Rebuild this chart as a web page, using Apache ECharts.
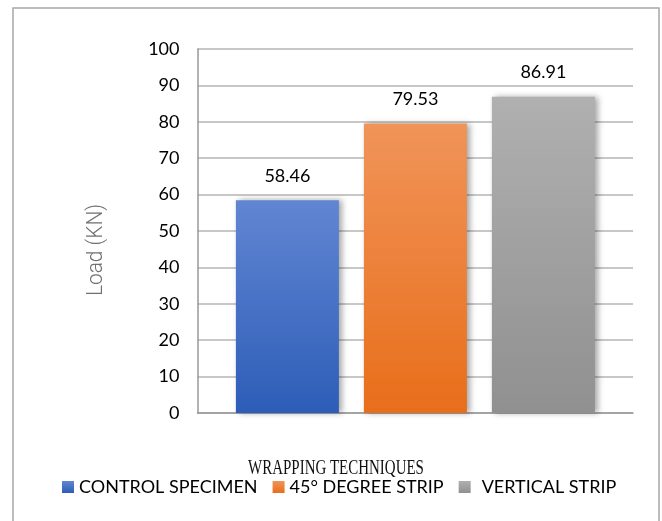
<!DOCTYPE html>
<html>
<head>
<meta charset="utf-8">
<script src="https://cdn.jsdelivr.net/npm/echarts@6/dist/echarts.min.js"></script>
<style>
  html, body { margin: 0; padding: 0; background: #ffffff; }
  #chart { width: 662px; height: 521px; }
</style>
</head>
<body>
<div id="chart"></div>
<script>
// Ultimate load per wrapping technique
const categories = ['CONTROL SPECIMEN', '45° DEGREE STRIP', 'VERTICAL STRIP'];
const loads = [58.46, 79.53, 86.91];
const yTicks = { min: 0, max: 100, interval: 10 };

// vertical gradients for each bar (top colour, bottom colour)
const barColors = [
  ['#6186d2', '#2d5db8'],
  ['#f09459', '#e86e1a'],
  ['#b0b0b0', '#909090']
];

const chart = echarts.init(document.getElementById('chart'), null, { renderer: 'canvas' });

const gradient = (c) => new echarts.graphic.LinearGradient(0, 0, 0, 1, [
  { offset: 0, color: c[0] },
  { offset: 1, color: c[1] }
]);

const textFont = 'Lato';

// one series per technique, stacked so each sits in its own slot
const series = categories.map((name, i) => ({
  name: name,
  type: 'bar',
  xAxisIndex: 1,
  yAxisIndex: 1,
  stack: 'all',
  barWidth: 103,
  data: categories.map((_, j) => (j === i ? loads[i] : null)),
  itemStyle: {
    color: gradient(barColors[i]),
    shadowColor: 'rgba(0,0,0,0.35)',
    shadowBlur: 6,
    shadowOffsetX: 3,
    shadowOffsetY: 0
  },
  label: {
    show: true,
    position: 'top',
    distance: 15,
    fontFamily: textFont,
    fontSize: 18,
    color: '#000',
    formatter: (p) => p.value.toFixed(2)
  },
  legendHoverLink: false,
  emphasis: { disabled: true }
}));

chart.setOption({
  animation: false,
  backgroundColor: '#ffffff',
  legend: {
    data: categories.map((name, i) => ({
      name: name,
      itemStyle: { color: gradient(barColors[i]) },
      textStyle: i === 2 ? { padding: [0, 0, 0, 6] } : {}
    })),
    left: 62,
    top: 478,
    padding: 0,
    itemWidth: 12,
    itemHeight: 12,
    itemGap: 15,
    icon: 'rect',
    textStyle: { fontFamily: textFont, fontSize: 18, color: '#000' },
    selectedMode: false
  },
  grid: [
    { left: 197.5, right: 29, top: 49, bottom: 108, containLabel: false },
    { left: 223.4, right: 54.6, top: 49, bottom: 108, containLabel: false }
  ],
  xAxis: [
    {
      gridIndex: 0,
      type: 'category',
      data: categories,
      axisLine: { show: true, lineStyle: { color: '#999', width: 1.5 } },
      axisTick: { show: false },
      axisLabel: { show: false },
      splitLine: { show: false }
    },
    {
      gridIndex: 1,
      type: 'category',
      data: categories,
      show: false
    }
  ],
  yAxis: [
    {
      gridIndex: 0,
      type: 'value',
      min: yTicks.min,
      max: yTicks.max,
      interval: yTicks.interval,
      axisLine: { show: true, lineStyle: { color: '#999', width: 1.5 } },
      axisTick: { show: false },
      axisLabel: { margin: 18, fontFamily: textFont, fontSize: 18, color: '#000' },
      splitLine: { show: true, lineStyle: { color: '#b4b4b4', width: 1.5 } }
    },
    {
      gridIndex: 1,
      type: 'value',
      min: yTicks.min,
      max: yTicks.max,
      interval: yTicks.interval,
      show: false
    }
  ],
  graphic: [
    {
      type: 'rect',
      shape: { x: 13, y: 8, width: 646, height: 560 },
      style: { fill: null, stroke: '#a8a8a8', lineWidth: 1.5 },
      silent: true,
      z: -1
    },
    {
      type: 'text',
      x: 96,
      y: 250,
      rotation: Math.PI / 2,
      scaleX: 0.95,
      style: {
        text: 'Load (KN)',
        fontFamily: 'Roboto',
        fontWeight: 300,
        fontSize: 22,
        fill: '#707070',
        align: 'center',
        verticalAlign: 'middle'
      },
      silent: true
    },
    {
      type: 'text',
      x: 336,
      y: 468,
      scaleX: 0.68,
      style: {
        text: 'WRAPPING TECHNIQUES',
        fontFamily: 'Liberation Serif',
        fontSize: 22,
        fill: '#111',
        align: 'center',
        verticalAlign: 'middle'
      },
      silent: true
    }
  ],
  series: series
});
</script>
</body>
</html>
